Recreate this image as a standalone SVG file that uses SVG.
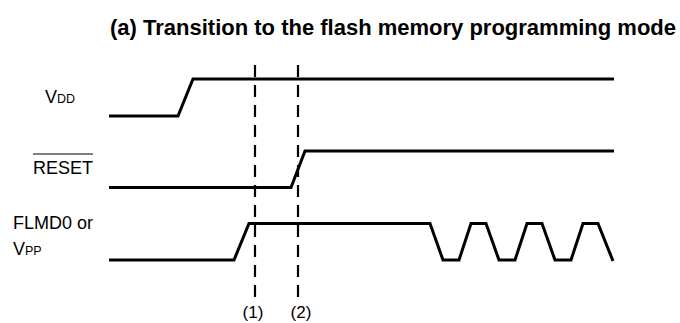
<svg xmlns="http://www.w3.org/2000/svg" width="680" height="323" viewBox="0 0 680 323">
<style>
text{font-family:"Liberation Sans",Arial,sans-serif;fill:#000}
.t{font-size:22px;font-weight:bold}
.l{font-size:18px}
.n{font-size:17px}
.s{font-size:12.5px}
.sig{fill:none;stroke:#000;stroke-width:3;stroke-linejoin:miter}
.dash{fill:none;stroke:#000;stroke-width:2.2;stroke-dasharray:12 8}
</style>
<rect width="680" height="323" fill="#fff"/>
<text class="t" x="676" y="35" text-anchor="end">(a) Transition to the flash memory programming mode</text>
<g id="vdd">
<text class="l" x="45" y="103">V<tspan class="s">DD</tspan></text>
<polyline class="sig" points="109,116 178,116 193,79 614,79"/>
</g>
<g id="reset">
<text class="l" x="33" y="174">RESET</text>
<line x1="33" y1="154" x2="93" y2="154" stroke="#000" stroke-width="1"/>
<polyline class="sig" points="109,187.5 291,187.5 305,151 614,151"/>
</g>
<g id="flmd0">
<text class="l" x="13" y="229">FLMD0 or</text>
<text class="l" x="13" y="255">V<tspan class="s">PP</tspan></text>
<polyline class="sig" points="109,260 234,260 249,223.5 430,223.5 443,260 459,260 471,223.5 486,223.5 499,260 515,260 527,223.5 542,223.5 555,260 571,260 583,223.5 598,223.5 613,261"/>
</g>
<g id="connectors">
<line class="dash" x1="255" y1="65" x2="255" y2="298"/>
<line class="dash" x1="298" y1="65" x2="298" y2="298"/>
</g>
<g id="markers">
<text class="n" x="253" y="318" text-anchor="middle">(1)</text>
<text class="n" x="301" y="318" text-anchor="middle">(2)</text>
</g>
</svg>
